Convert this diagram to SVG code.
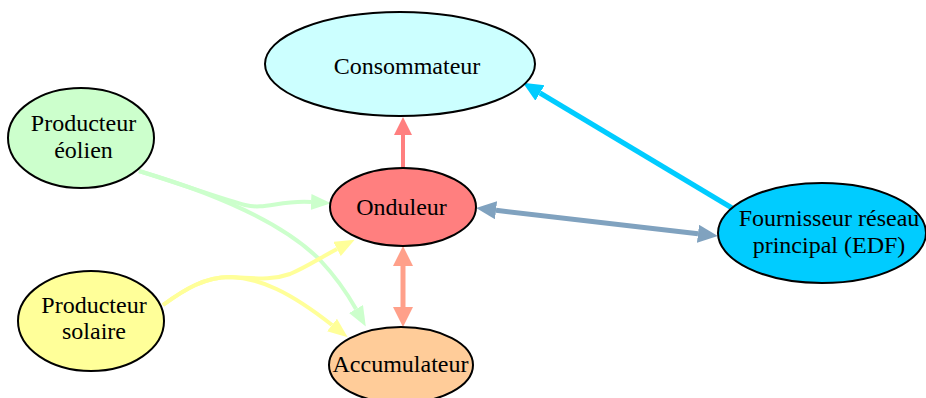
<svg xmlns="http://www.w3.org/2000/svg" width="926" height="398" viewBox="0 0 926 398">
<style>
.node ellipse{stroke:#000;stroke-width:2}
.node text{font-family:"Liberation Serif","Times New Roman",serif;font-size:24px;fill:#000;text-anchor:middle}
.edge{fill:none}
</style>
<defs>
<marker id="aRed" markerUnits="userSpaceOnUse" markerWidth="20" markerHeight="20" refX="0" refY="9" orient="auto"><path d="M0,0 L18,9 L0,18 z" fill="#ff7f7f"/></marker>
<marker id="aSal" markerUnits="userSpaceOnUse" markerWidth="22" markerHeight="22" refX="0" refY="10" orient="auto-start-reverse"><path d="M0,0 L20,10 L0,20 z" fill="#ffa08a"/></marker>
<marker id="aCyan" markerUnits="userSpaceOnUse" markerWidth="22" markerHeight="22" refX="0" refY="9" orient="auto"><path d="M0,0 L20,9 L0,18 z" fill="#00ccff"/></marker>
<marker id="aSteel" markerUnits="userSpaceOnUse" markerWidth="22" markerHeight="22" refX="0" refY="9" orient="auto-start-reverse"><path d="M0,0 L20,9 L0,18 z" fill="#80a2bf"/></marker>
<marker id="aGreen" markerUnits="userSpaceOnUse" markerWidth="22" markerHeight="22" refX="0" refY="8" orient="auto"><path d="M0,0 L20,8 L0,16 z" fill="#ccffcc"/></marker>
<marker id="aYellow" markerUnits="userSpaceOnUse" markerWidth="22" markerHeight="22" refX="0" refY="8" orient="auto"><path d="M0,0 L20,8 L0,16 z" fill="#ffff99"/></marker>
</defs>
<g id="edges">
<path class="edge" d="M403,168 L403,135" stroke="#ff7f7f" stroke-width="4" marker-end="url(#aRed)"/>
<path class="edge" d="M403,266 L403,307" stroke="#ffa08a" stroke-width="5" marker-start="url(#aSal)" marker-end="url(#aSal)"/>
<path class="edge" d="M732,208 L540,93" stroke="#00ccff" stroke-width="5" marker-end="url(#aCyan)"/>
<path class="edge" d="M496,210.3 L698,233.7" stroke="#80a2bf" stroke-width="5" marker-start="url(#aSteel)" marker-end="url(#aSteel)"/>
<path class="edge" d="M139,171 C190,187 225,200 245,205 C265,210 280,200 311,202" stroke="#ccffcc" stroke-width="4" marker-end="url(#aGreen)"/>
<path class="edge" d="M139,171 C210,192 280,220 320,260 C335,276 347,293 356,309" stroke="#ccffcc" stroke-width="4" marker-end="url(#aGreen)"/>
<path class="edge" d="M163,305 C185,289 205,277 230,277 C255,278 270,281 290,274 C305,268 320,258 337,249" stroke="#ffff99" stroke-width="4" marker-end="url(#aYellow)"/>
<path class="edge" d="M163,305 C185,289 205,277 230,277 C260,278 290,292 332,325" stroke="#ffff99" stroke-width="4" marker-end="url(#aYellow)"/>
</g>
<g id="consommateur" class="node"><ellipse cx="400" cy="64" rx="135" ry="52" fill="#ccffff"/><text x="407" y="74">Consommateur</text></g>
<g id="eolien" class="node"><ellipse cx="81" cy="138" rx="73" ry="50" fill="#ccffcc"/><text x="83.5" y="131">Producteur</text><text x="83.5" y="158">éolien</text></g>
<g id="onduleur" class="node"><ellipse cx="403" cy="207" rx="73" ry="39" fill="#ff7f7f"/><text x="401.5" y="215">Onduleur</text></g>
<g id="solaire" class="node"><ellipse cx="91" cy="321" rx="73" ry="50" fill="#ffff99"/><text x="94" y="313">Producteur</text><text x="94" y="339">solaire</text></g>
<g id="accumulateur" class="node"><ellipse cx="401" cy="365" rx="72" ry="38" fill="#ffcc99"/><text x="400.5" y="372">Accumulateur</text></g>
<g id="fournisseur" class="node"><ellipse cx="822" cy="233" rx="104" ry="50" fill="#00ccff"/><text x="829" y="226">Fournisseur réseau</text><text x="829" y="253">principal (EDF)</text></g>
</svg>
